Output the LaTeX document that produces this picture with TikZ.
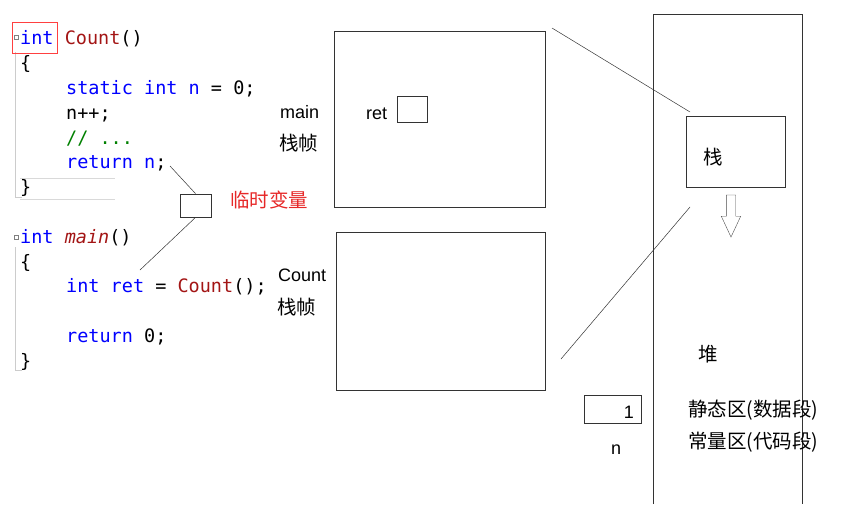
\documentclass[tikz,border=0pt]{standalone}
\usepackage{fontspec}
\setmainfont{Liberation Sans}
\setmonofont{DejaVu Sans Mono}
\newfontfamily\cjk{Noto Sans CJK SC}
\usetikzlibrary{positioning,shapes.arrows}
\definecolor{kwblue}{RGB}{0,0,255}
\definecolor{fnred}{RGB}{163,21,21}
\definecolor{cmgreen}{RGB}{0,128,0}
\definecolor{lblred}{RGB}{230,40,40}
\tikzset{
  code/.style={anchor=base west, inner sep=0pt, font=\ttfamily\fontsize{18.5}{18.5}\selectfont},
  lbl/.style={anchor=base west, inner sep=0pt, font=\fontsize{18}{18}\selectfont},
  cjklbl/.style={anchor=base west, inner sep=0pt, font=\cjk\fontsize{19.5}{19.5}\selectfont},
  frame/.style={draw=black!80, line width=0.8pt, inner sep=0pt},
  gutter/.style={draw=black!20, line width=1pt},
  thin/.style={draw=black!80, line width=0.5pt}
}
\begin{document}
\begin{tikzpicture}[x=1pt, y=-1pt]
  \useasboundingbox (0,0) rectangle (841,504);
  % code gutter
  \draw[gutter] (15,52) -- (15,197) -- (22,197);
  \draw[gutter] (15,247) -- (15,370) -- (22,370);
  \draw[black!15] (20,178) -- (115,178);
  \draw[black!15] (20,199) -- (115,199);
  \draw[black!50] (14,35) rectangle (18,39);
  \draw[black!50] (14,235) rectangle (18,239);
  % code Count
  \node[code] (l1) at (20,44) {\textcolor{kwblue}{int} \textcolor{fnred}{Count}()};
  \node[draw=red!75, line width=0.8pt, minimum width=45pt, minimum height=31pt] (hl) at (34.5,37.5) {};
  \node[code] (l2) at (20,69) {\{};
  \node[code] (l3) at (66,94) {\textcolor{kwblue}{static int n} = 0;};
  \node[code] (l4) at (66,119) {n++;};
  \node[code] (l5) at (66,144) {\textcolor{cmgreen}{// ...}};
  \node[code] (l6) at (66,168) {\textcolor{kwblue}{return n};};
  \node[code] (l7) at (20,193) {\}};
  % code main
  \node[code] (m1) at (20,243) {\textcolor{kwblue}{int} \textcolor{fnred}{\itshape main}()};
  \node[code] (m2) at (20,268) {\{};
  \node[code] (m3) at (66,292) {\textcolor{kwblue}{int ret} = \textcolor{fnred}{Count}();};
  \node[code] (m4) at (66,342) {\textcolor{kwblue}{return} 0;};
  \node[code] (m5) at (20,367) {\}};
  % temporary
  \node[frame, minimum width=31pt, minimum height=23pt] (tmp) at (195.5,205.5) {};
  \node[cjklbl, text=lblred] (tmplbl) at (230,207) {临时变量};
  \coordinate (retn) at (170,166);
  \coordinate (callret) at (140,270);
  \draw[thin] (retn) -- (tmp.north);
  \draw[thin] (tmp.south) -- (callret);
  % stack frames
  \node[frame, minimum width=211pt, minimum height=176pt] (mainf) at (439.5,119) {};
  \node[lbl] (mainlbl) at (280,118) {main};
  \node[cjklbl] (mainzz) at (279,150) {栈帧};
  \node[lbl] (retlbl) at (366,119) {ret};
  \node[frame, minimum width=30pt, minimum height=26pt] (retbox) at (412,109) {};
  \node[frame, minimum width=209pt, minimum height=158pt] (cntf) at (440.5,311) {};
  \node[lbl] (cntlbl) at (278,281) {Count};
  \node[cjklbl] (cntzz) at (277,314) {栈帧};
  % memory
  \draw[frame] (653,504) -- (653,14) -- (802,14) -- (802,504);
  \node[frame, minimum width=99pt, minimum height=71pt] (stk) at (735.5,151.5) {};
  \node[cjklbl] (stklbl) at (703,164) {栈};
  \node[draw=black!70, fill=white, single arrow, shape border rotate=270, minimum height=42pt,
        single arrow head extend=5pt, single arrow tip angle=50, minimum width=19pt, inner sep=4.5pt] (grow) at (731,211) {};
  \coordinate (stktop) at (690,112);
  \coordinate (stkbot) at (690,207);
  \coordinate (mainc) at (552,28);
  \coordinate (cntc) at (561,359);
  \draw[thin] (mainc) -- (stktop);
  \draw[thin] (stkbot) -- (cntc);
  \node[cjklbl] (heap) at (698,361) {堆};
  \node[cjklbl] (stat) at (688,416) {静态区(数据段)};
  \node[cjklbl] (const) at (688,448) {常量区(代码段)};
  \node[frame, minimum width=57pt, minimum height=28pt] (nbox) at (612.5,409) {};
  \node[lbl, anchor=base east] (nval) at (634,418) {1};
  \node[lbl] (nlbl) at (611,454) {n};
\end{tikzpicture}
\end{document}
